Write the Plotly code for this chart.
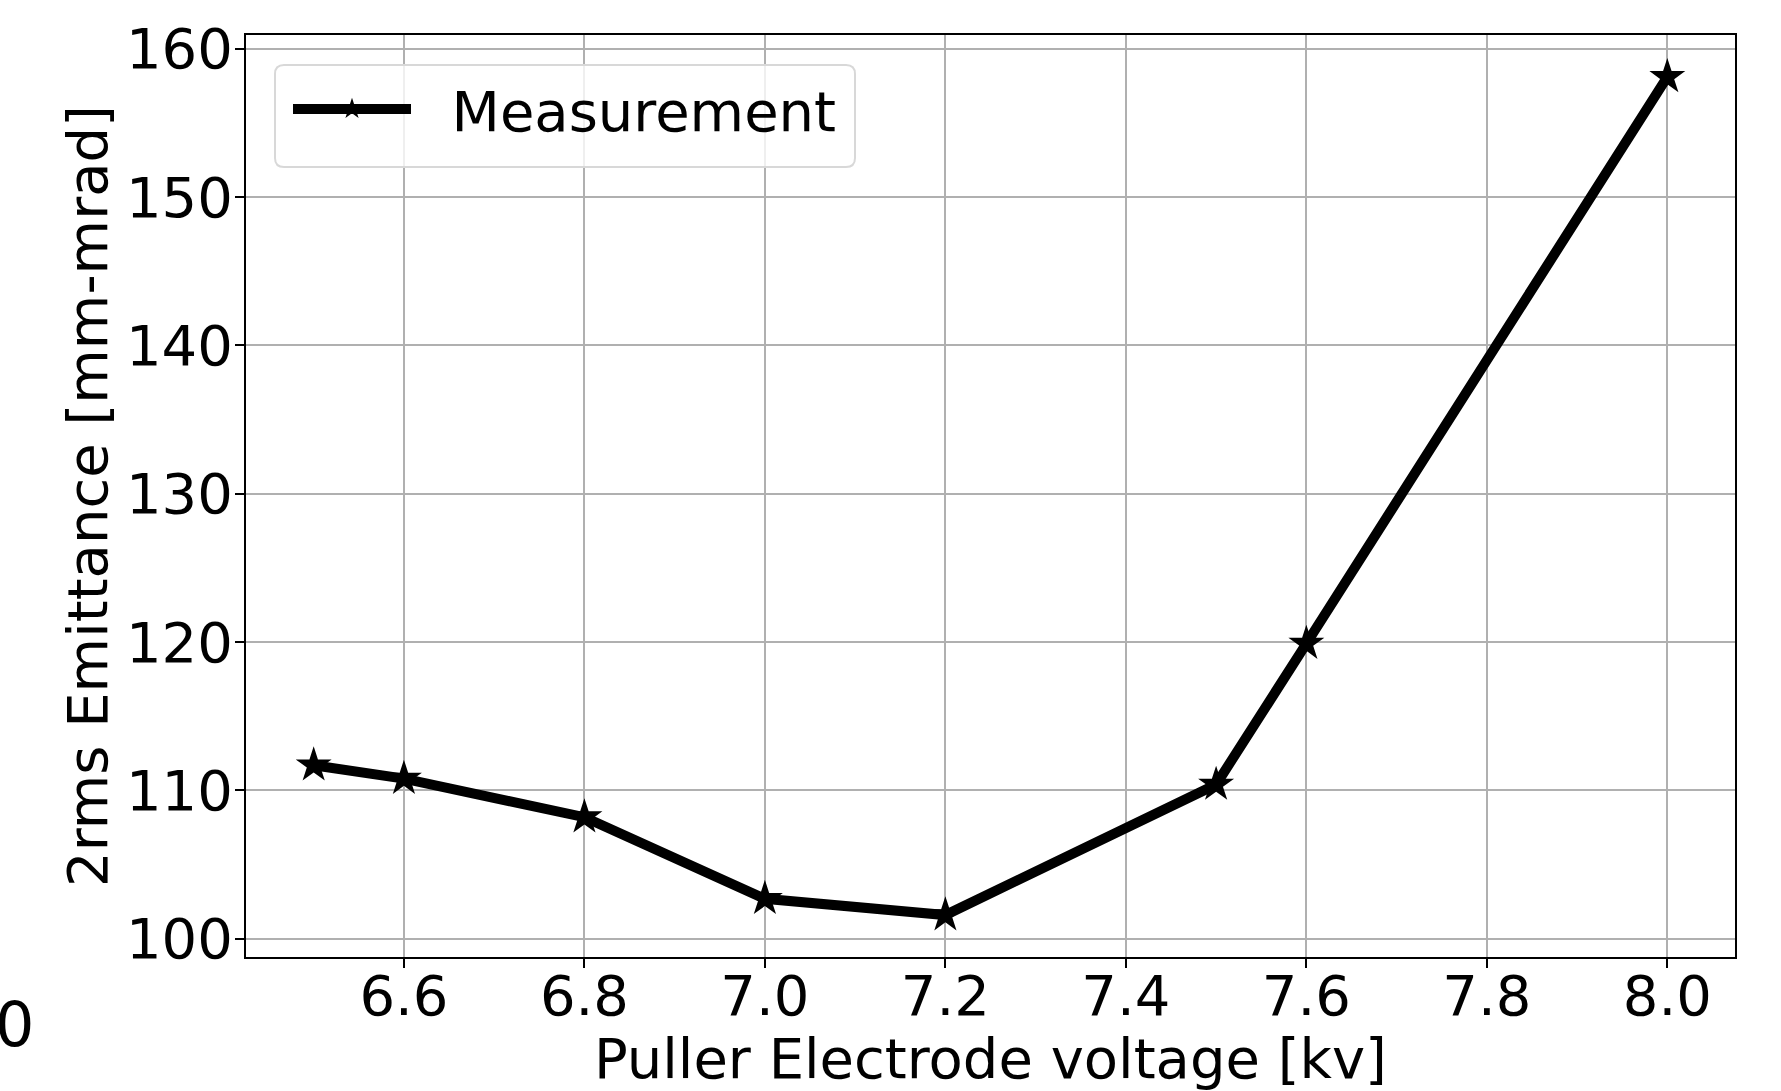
import plotly.graph_objects as go

# Data
voltage_kv = [6.5, 6.6, 6.8, 7.0, 7.2, 7.5, 7.6, 8.0]
emittance = [111.7, 110.8, 108.2, 102.7, 101.6, 110.4, 119.9, 158.1]
x_ticks = [6.6, 6.8, 7.0, 7.2, 7.4, 7.6, 7.8, 8.0]
y_ticks = [100, 110, 120, 130, 140, 150, 160]
series_name = "Measurement"
x_title = "Puller Electrode voltage [kv]"
y_title = "2rms Emittance [mm-mrad]"

W, H = 1781, 1091
ML, MR, MT, MB = 246, 46, 35, 134
PW, PH = W - ML - MR, H - MT - MB
FONT = "DejaVu Sans"
FS = 56


def px_x(p):
    return (p - ML) / PW


def px_y(p):
    return (H - MB - p) / PH


fig = go.Figure()
fig.add_trace(go.Scatter(
    x=voltage_kv, y=emittance, name="\u00a0\u00a0" + series_name, mode="lines+markers",
    line=dict(color="black", width=10),
    marker=dict(symbol="star", size=27, color="black"),
))

# x/y ranges with 5% margin like matplotlib
xr = max(voltage_kv) - min(voltage_kv)
yr = max(emittance) - min(emittance)
xrange = [min(voltage_kv) - 0.05 * xr, max(voltage_kv) + 0.05 * xr]
yrange = [min(emittance) - 0.05 * yr, max(emittance) + 0.05 * yr]

axis_common = dict(
    showline=True, linecolor="black", linewidth=2, mirror=True,
    ticks="outside", ticklen=9, tickwidth=2, tickcolor="black",
    showgrid=True, gridcolor="#b0b0b0", gridwidth=2, zeroline=False,
    tickfont=dict(family=FONT, size=FS, color="black"),
    automargin=False,
)

fig.update_xaxes(
    range=xrange, tickvals=x_ticks, ticktext=[f"{v:.1f}" for v in x_ticks],
    ticklabelstandoff=-20,
    **axis_common,
)
fig.update_yaxes(
    range=yrange, tickvals=y_ticks, ticktext=[str(v) for v in y_ticks],
    ticklabelstandoff=-9,
    **axis_common,
)

# axis titles
fig.add_annotation(text=x_title, xref="paper", yref="paper", x=0.5, y=px_y(1058),
                   xanchor="center", yanchor="middle", showarrow=False,
                   font=dict(family=FONT, size=FS, color="black"))
fig.add_annotation(text=y_title, xref="paper", yref="paper", x=px_x(87), y=0.5,
                   xanchor="center", yanchor="middle", textangle=-90, showarrow=False,
                   font=dict(family=FONT, size=FS, color="black"))

# rounded legend frame (paper coords)
x0, x1 = px_x(275), px_x(855)
y1, y0 = px_y(65), px_y(167)
rx, ry = 9 / PW, 9 / PH
path = (f"M{x0+rx},{y0} L{x1-rx},{y0} Q{x1},{y0} {x1},{y0+ry} L{x1},{y1-ry} Q{x1},{y1} {x1-rx},{y1} "
        f"L{x0+rx},{y1} Q{x0},{y1} {x0},{y1-ry} L{x0},{y0+ry} Q{x0},{y0} {x0+rx},{y0} Z")
fig.add_shape(type="path", path=path, xref="paper", yref="paper", layer="above",
              fillcolor="rgba(255,255,255,0.8)", line=dict(color="#d8d8d8", width=2))

fig.update_layout(
    width=W, height=H,
    margin=dict(l=ML, r=MR, t=MT, b=MB, pad=0, autoexpand=False),
    paper_bgcolor="white", plot_bgcolor="white",
    font=dict(family=FONT, size=FS, color="black"),
    showlegend=True,
    legend=dict(
        x=px_x(288), y=px_y(109), xanchor="left", yanchor="middle",
        bgcolor="rgba(0,0,0,0)", borderwidth=0,
        font=dict(family=FONT, size=FS, color="black"),
        itemwidth=118,
    ),
)

# clipped stray label at bottom-left
fig.add_annotation(
    text="0", xref="paper", yref="paper", x=px_x(0), y=px_y(1024),
    xanchor="left", yanchor="middle", xshift=-7, showarrow=False,
    font=dict(family=FONT, size=62, color="black"),
)

fig.write_html("out.html", config={"displayModeBar": False},
               post_script="document.body.style.margin='0';")
